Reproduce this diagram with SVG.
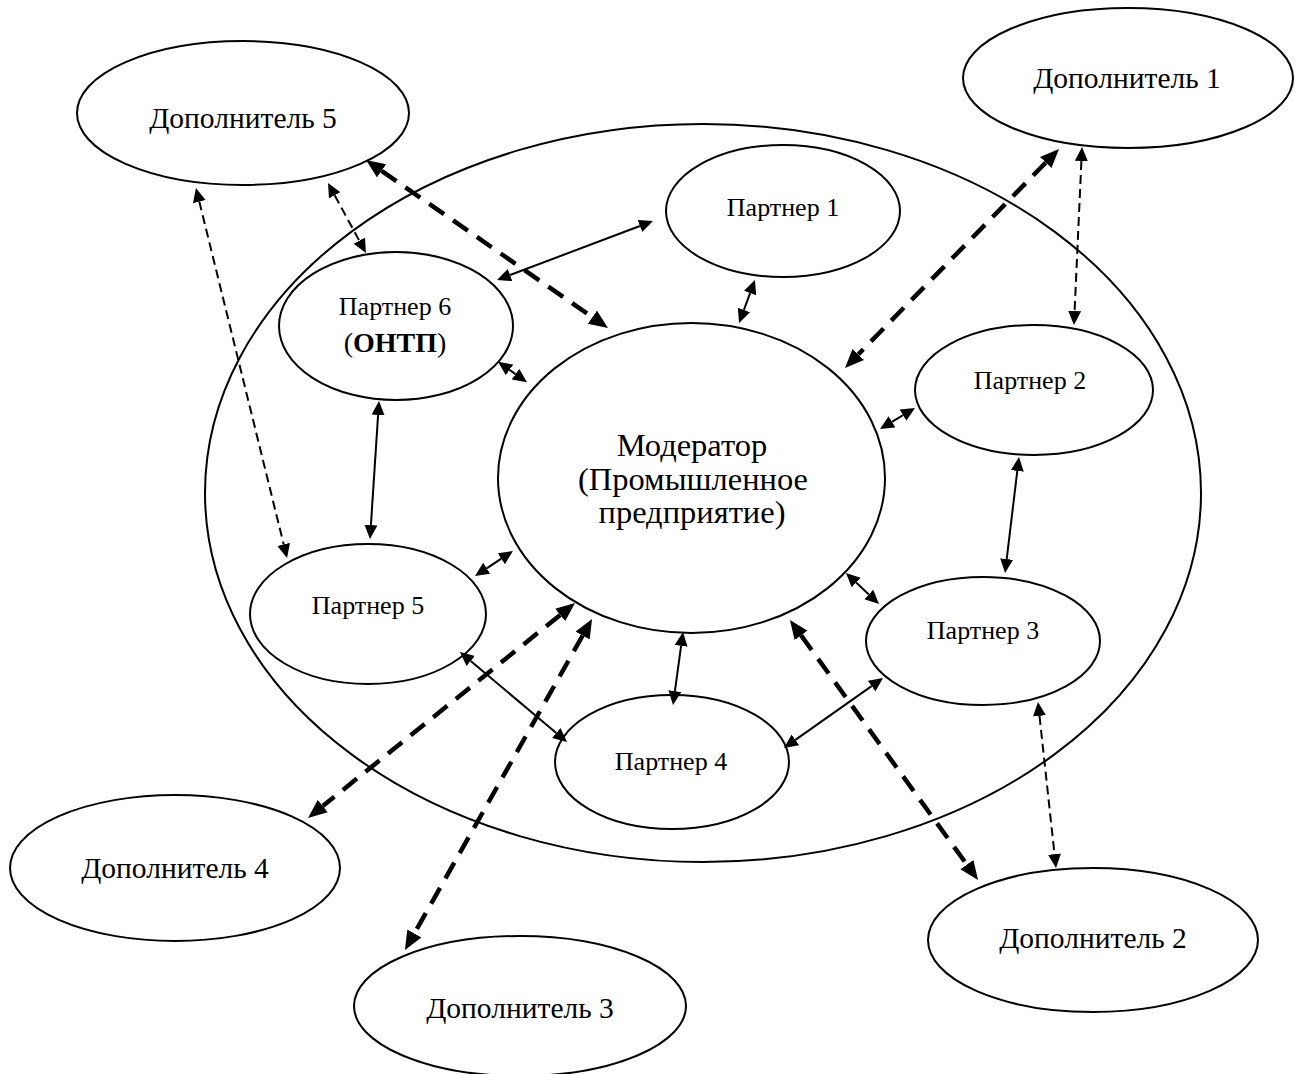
<svg xmlns="http://www.w3.org/2000/svg" width="1301" height="1074" viewBox="0 0 1301 1074">
  <style>
    .node { fill: #fff; stroke: #000; stroke-width: 2; }
    .outer { fill: none; stroke: #000; stroke-width: 2; }
    text { font-family: "Liberation Serif", "Times New Roman", serif; fill: #000; text-anchor: middle; }
    .dop { font-size: 29.5px; }
    .par { font-size: 26px; }
    .mod { font-size: 32.5px; }
    .solid { stroke: #000; stroke-width: 2; fill: none; marker-start: url(#hs); marker-end: url(#hs); }
    .thick { stroke: #000; stroke-width: 4.5; fill: none; stroke-dasharray: 18 11; marker-start: url(#hb); marker-end: url(#hb); }
    .thin { stroke: #000; stroke-width: 2; fill: none; stroke-dasharray: 9 5; marker-start: url(#hs); marker-end: url(#hs); }
  </style>
  <defs>
    <!-- small arrowhead: base at the line end, tip 14px beyond -->
    <marker id="hs" markerUnits="userSpaceOnUse" markerWidth="16" markerHeight="14" refX="0" refY="6.5" orient="auto-start-reverse" viewBox="0 0 16 14">
      <path d="M0,0 L14,6.5 L0,13 Z" fill="#000"/>
    </marker>
    <!-- bold arrowhead for the main links -->
    <marker id="hb" markerUnits="userSpaceOnUse" markerWidth="20" markerHeight="17" refX="0" refY="8" orient="auto-start-reverse" viewBox="0 0 20 17">
      <path d="M0,0 L19,8 L0,16 Z" fill="#000"/>
    </marker>
  </defs>

  <rect width="1301" height="1074" fill="#fff"/>

  <!-- network boundary -->
  <ellipse class="outer" cx="703" cy="493" rx="498" ry="369"/>

  <g id="moderator">
    <ellipse class="node" cx="691.5" cy="478" rx="193.5" ry="155"/>
    <text class="mod" x="692" y="456">Модератор</text>
    <text class="mod" x="693" y="490">(Промышленное</text>
    <text class="mod" x="692" y="523">предприятие)</text>
  </g>

  <g id="partner1">
    <ellipse class="node" cx="783" cy="211" rx="117" ry="66"/>
    <text class="par" x="783" y="216">Партнер 1</text>
  </g>
  <g id="partner2">
    <ellipse class="node" cx="1034" cy="390" rx="119" ry="65"/>
    <text class="par" x="1030" y="389">Партнер 2</text>
  </g>
  <g id="partner3">
    <ellipse class="node" cx="983" cy="641" rx="117" ry="64"/>
    <text class="par" x="983" y="639">Партнер 3</text>
  </g>
  <g id="partner4">
    <ellipse class="node" cx="672" cy="762" rx="117" ry="67"/>
    <text class="par" x="671" y="770">Партнер 4</text>
  </g>
  <g id="partner5">
    <ellipse class="node" cx="368" cy="614" rx="118" ry="70"/>
    <text class="par" x="368" y="614">Партнер 5</text>
  </g>
  <g id="partner6">
    <ellipse class="node" cx="396" cy="326" rx="117" ry="74"/>
    <text class="par" x="395" y="315">Партнер 6</text>
    <text class="par" x="395" y="352" style="font-size:28px">(<tspan font-weight="bold">ОНТП</tspan>)</text>
  </g>

  <g id="complementor1">
    <ellipse class="node" cx="1128" cy="78" rx="165" ry="70"/>
    <text class="dop" x="1127" y="88">Дополнитель 1</text>
  </g>
  <g id="complementor2">
    <ellipse class="node" cx="1093" cy="940" rx="165" ry="72"/>
    <text class="dop" x="1093" y="948">Дополнитель 2</text>
  </g>
  <g id="complementor3">
    <ellipse class="node" cx="520" cy="1006" rx="166" ry="70"/>
    <text class="dop" x="520" y="1018">Дополнитель 3</text>
  </g>
  <g id="complementor4">
    <ellipse class="node" cx="175" cy="868" rx="165" ry="73"/>
    <text class="dop" x="175" y="878">Дополнитель 4</text>
  </g>
  <g id="complementor5">
    <ellipse class="node" cx="243" cy="113" rx="166" ry="72"/>
    <text class="dop" x="243" y="128">Дополнитель 5</text>
  </g>

  <g id="connectors">
    <!-- partner links -->
    <line class="solid" x1="510.1" y1="275.0" x2="639.9" y2="226.0"/>
    <line class="solid" x1="750.1" y1="293.1" x2="743.9" y2="309.9"/>
    <line class="solid" x1="509.5" y1="369.9" x2="515.5" y2="374.1"/>
    <line class="solid" x1="892.0" y1="421.8" x2="903.0" y2="415.2"/>
    <line class="solid" x1="1017.3" y1="470.9" x2="1006.7" y2="559.1"/>
    <line class="solid" x1="856.2" y1="582.6" x2="868.8" y2="594.4"/>
    <line class="solid" x1="378.1" y1="415.0" x2="370.9" y2="525.0"/>
    <line class="solid" x1="486.7" y1="568.3" x2="501.3" y2="558.7"/>
    <line class="solid" x1="470.7" y1="661.0" x2="556.3" y2="733.0"/>
    <line class="solid" x1="681.1" y1="645.9" x2="674.9" y2="691.1"/>
    <line class="solid" x1="871.6" y1="686.1" x2="795.4" y2="739.9"/>
    <!-- moderator to complementors -->
    <line class="thick" x1="381.6" y1="170.8" x2="592.4" y2="317.2"/>
    <line class="thick" x1="1045.7" y1="162.6" x2="858.3" y2="354.4"/>
    <line class="thick" x1="560.2" y1="614.9" x2="322.8" y2="806.1"/>
    <line class="thick" x1="582.7" y1="635.5" x2="414.3" y2="933.5"/>
    <line class="thick" x1="801.1" y1="635.4" x2="966.9" y2="864.6"/>
    <!-- complementor to partner -->
    <line class="thin" x1="334.7" y1="195.3" x2="359.3" y2="240.7"/>
    <line class="thin" x1="199.3" y1="201.6" x2="283.7" y2="544.4"/>
    <line class="thin" x1="1081.4" y1="161.0" x2="1074.6" y2="311.0"/>
    <line class="thin" x1="1039.5" y1="715.9" x2="1054.5" y2="854.1"/>
  </g>
</svg>
